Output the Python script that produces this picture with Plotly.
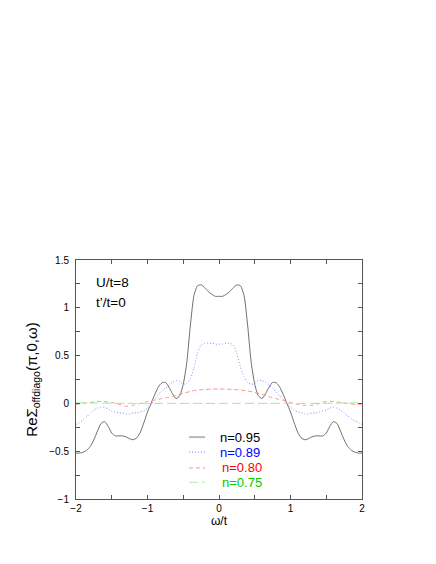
import plotly.graph_objects as go

# ---- data ----
x_fine = [round(-2 + 0.05 * i, 2) for i in range(81)]
x_coarse = [round(-2 + 0.1 * i, 1) for i in range(41)]

n095 = [-0.52, -0.52, -0.51, -0.49, -0.45, -0.38, -0.29, -0.21, -0.19, -0.24,
        -0.31, -0.34, -0.34, -0.34, -0.35, -0.37, -0.38, -0.36, -0.30, -0.20,
        -0.09, 0.00, 0.09, 0.17, 0.215, 0.22, 0.17, 0.10, 0.05, 0.08,
        0.20, 0.43, 0.82, 1.13, 1.23, 1.24, 1.21, 1.17, 1.14, 1.12,
        1.12,
        1.12, 1.14, 1.17, 1.21, 1.24, 1.23, 1.13, 0.82, 0.43, 0.20,
        0.08, 0.05, 0.10, 0.17, 0.22, 0.215, 0.17, 0.09, 0.00, -0.09,
        -0.20, -0.30, -0.36, -0.38, -0.37, -0.35, -0.34, -0.34, -0.34, -0.31,
        -0.24, -0.19, -0.21, -0.29, -0.38, -0.45, -0.49, -0.51, -0.52, -0.52]

n089 = [-0.22, -0.20, -0.17, -0.14, -0.10, -0.07, -0.05, -0.04, -0.04, -0.06,
        -0.08, -0.09, -0.10, -0.10, -0.11, -0.11, -0.10, -0.10, -0.09, -0.08,
        -0.05, -0.01, 0.04, 0.09, 0.13, 0.16, 0.19, 0.22, 0.24, 0.23,
        0.20, 0.21, 0.26, 0.37, 0.53, 0.61, 0.63, 0.63, 0.63, 0.62,
        0.62,
        0.62, 0.63, 0.63, 0.61, 0.52, 0.38, 0.28, 0.22, 0.20, 0.21,
        0.24, 0.24, 0.22, 0.19, 0.16, 0.12, 0.08, 0.04, 0.00, -0.04,
        -0.07, -0.09, -0.10, -0.11, -0.11, -0.10, -0.10, -0.09, -0.08, -0.07,
        -0.05, -0.04, -0.05, -0.07, -0.10, -0.13, -0.16, -0.18, -0.20, -0.22]

n080 = [-0.01, 0.00, 0.01, 0.02, 0.02, 0.01, -0.01, -0.03, -0.02, 0.00,
        0.02, 0.035, 0.05, 0.065, 0.085, 0.105, 0.125, 0.14, 0.145, 0.15,
        0.15,
        0.15, 0.145, 0.14, 0.13, 0.115, 0.095, 0.07, 0.05, 0.03, 0.01,
        -0.01, -0.02, -0.02, 0.00, 0.02, 0.02, 0.01, 0.00, -0.01, -0.01]

n075 = [0.005, 0.005, 0.005, 0.004, 0.003, 0.002, 0.001, 0.000, 0.000, 0.000,
        0.000, 0.000, 0.000, 0.000, 0.000, 0.000, 0.000, 0.000, 0.000, 0.000,
        0.000,
        0.000, 0.000, 0.000, 0.000, 0.000, 0.000, 0.000, 0.000, 0.000, 0.000,
        0.000, 0.000, 0.000, 0.000, 0.001, 0.002, 0.003, 0.004, 0.005, 0.005]

labels = ["n=0.95", "n=0.89", "n=0.80", "n=0.75"]
text_colors = ["#000000", "#0000ff", "#ff0000", "#00cc00"]
line_colors = ["#606060", "#8080ff", "#ff8888", "#80f080"]
legend_line_colors = ["#b8b8b8", "#9a9aff", "#ffa8a8", "#a8f0a8"]
dashes = ["solid", "1px,2px", "4px,3px", "9px,4px"]

x_ticks = [-2, -1, 0, 1, 2]
x_tick_text = ["\u22122", "\u22121", "0", "1", "2"]
y_ticks = [-1, -0.5, 0, 0.5, 1, 1.5]
y_tick_text = ["\u22121", "\u22120.5", "0", "0.5", "1", "1.5"]

FONT = "Liberation Sans, Arial, sans-serif"

fig = go.Figure()
series = [(x_fine, n095), (x_fine, n089), (x_coarse, n080), (x_coarse, n075)]
for (xs, ys), name, lc, dash in zip(series, labels, line_colors, dashes):
    fig.add_trace(go.Scatter(x=xs, y=ys, mode="lines", name=name,
                             line=dict(color=lc, width=0.9, dash=dash, shape="spline", smoothing=0.6),
                             showlegend=False))

# manual legend (compact, coloured text)
leg_y = [0.259, 0.196, 0.130, 0.070]
leg_tx = [0.495, 0.497, 0.502, 0.504]
for lab, tc, lc, dash, yy, tx in zip(labels, text_colors, legend_line_colors, dashes, leg_y, leg_tx):
    fig.add_shape(type="line", xref="paper", yref="paper", x0=0.395, x1=0.451, y0=yy, y1=yy,
                  line=dict(color=lc, width=2 if dash == "solid" else 1.2, dash=dash))
    fig.add_annotation(x=tx, y=yy, xref="paper", yref="paper", text=lab, showarrow=False,
                       xanchor="left", yanchor="middle", font=dict(family=FONT, size=13, color=tc))

fig.add_annotation(x=0.063, y=0.904, xref="paper", yref="paper", text="U/t=8", showarrow=False,
                   xanchor="left", yanchor="middle", font=dict(family=FONT, size=13.5, color="black"))
fig.add_annotation(x=0.063, y=0.822, xref="paper", yref="paper", text="t\u2019/t=0", showarrow=False,
                   xanchor="left", yanchor="middle", font=dict(family=FONT, size=13.5, color="black"))

axis_common = dict(showgrid=False, zeroline=False, showline=True, linecolor="#555555", linewidth=1,
                   mirror="ticks", ticks="inside", ticklen=4, tickcolor="#555555", tickwidth=1,
                   tickfont=dict(family=FONT, size=10, color="black"))

fig.update_layout(
    width=436, height=564,
    margin=dict(l=68, r=82, t=252, b=73),
    paper_bgcolor="white", plot_bgcolor="white",
    showlegend=False,
    xaxis=dict(range=[-2, 2], tickvals=x_ticks, ticktext=x_tick_text,
               minor=dict(dtick=0.5, tick0=0, ticks="inside", ticklen=4, tickcolor="#555555"),
               title=dict(text="\u03c9/t", font=dict(family=FONT, size=12, color="black"), standoff=2),
               **axis_common),
    yaxis=dict(range=[-1, 1.5], tickvals=y_ticks, ticktext=y_tick_text, ticklabelstandoff=4,
               minor=dict(dtick=0.25, tick0=0, ticks="inside", ticklen=4, tickcolor="#555555"),
               title=dict(text="Re\u03a3<sub>offdiago</sub>(\u03c0,0,\u03c9)",
                          font=dict(family=FONT, size=15, color="black"), standoff=8),
               **axis_common),
)

fig.write_html("out.html")
